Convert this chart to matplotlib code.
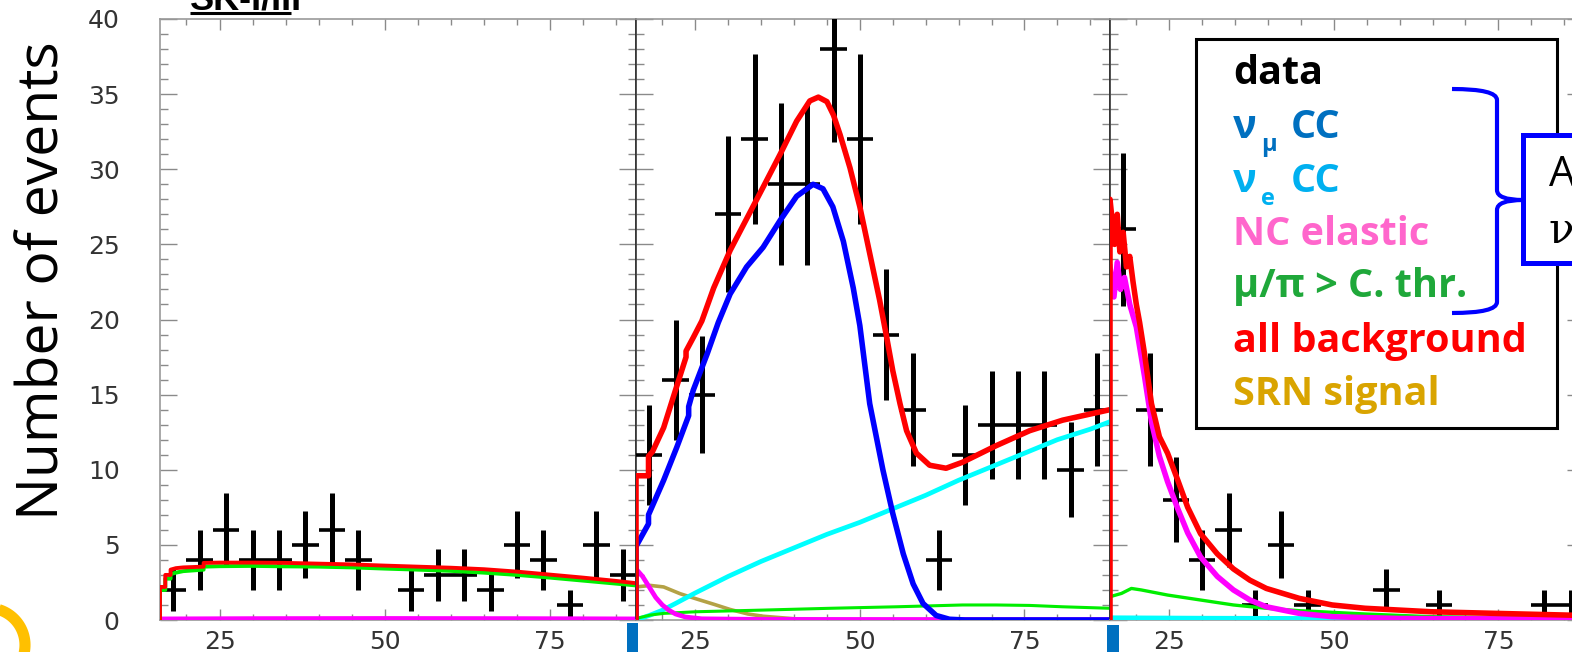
import numpy as np
import matplotlib
matplotlib.use("Agg")
import matplotlib.pyplot as plt
from matplotlib.ticker import MultipleLocator, FixedLocator
from matplotlib.patches import Rectangle, PathPatch
from matplotlib.path import Path

# ---------------- data: observed counts per 4-unit bin ----------------
bin_centers = [18, 22, 26, 30, 34, 38, 42, 46, 50, 54, 58, 62, 66, 70, 74, 78, 82, 86]
counts_low = [2, 4, 6, 4, 4, 5, 6, 4, 0, 2, 3, 3, 2, 5, 4, 1, 5, 3]
counts_mid = [11, 16, 15, 27, 32, 29, 29, 38, 32, 19, 14, 4, 11, 13, 13, 13, 10, 14]
counts_high = [26, 14, 8, 4, 6, 1, 5, 1, 0, 0, 2, 0, 1, 0, 0, 0, 1, 1]
x_ticks = [25, 50, 75]
y_ticks = [0, 5, 10, 15, 20, 25, 30, 35, 40]

# ---------------- expectations, low region ----------------
low_all_x = [16, 16, 16.8, 16.8, 17.6, 17.6, 18.4, 19.5, 22.6, 22.6, 25, 30, 35, 40, 45, 50,
             55, 60, 65, 70, 75, 80, 85, 88]
low_all_y = [0, 2.2, 2.2, 3.0, 3.0, 3.35, 3.45, 3.5, 3.55, 3.8, 3.82, 3.82, 3.8, 3.75, 3.7, 3.62,
             3.55, 3.48, 3.38, 3.22, 3.02, 2.82, 2.6, 2.45]
low_mupi_x = [16, 16, 16.8, 16.8, 17.6, 17.6, 18.4, 19.5, 22.6, 22.6, 25, 30, 35, 40, 45, 50,
              55, 60, 65, 70, 75, 80, 85, 88]
low_mupi_y = [0, 2.0, 2.0, 2.75, 2.75, 3.05, 3.15, 3.25, 3.35, 3.55, 3.58, 3.6, 3.57, 3.55, 3.5,
              3.42, 3.35, 3.27, 3.15, 3.0, 2.82, 2.62, 2.42, 2.3]
low_nc_x = [16, 30, 50, 70, 88]
low_nc_y = [0.1, 0.12, 0.13, 0.12, 0.1]
low_nue_x = [16, 88]
low_nue_y = [0.03, 0.05]

# ---------------- expectations, middle region ----------------
mid_all_x = [16, 16, 17.9, 17.9, 18.5, 20.2, 22.0, 23.6, 23.6, 24.7, 26.0, 27.8, 30.3, 32.8,
             35.3, 37.9, 40.4, 42.4, 43.7, 45.0, 46.0, 47.0, 48.5, 50.0, 51.5, 53.0, 54.0, 55.0,
             56.1, 57.1, 58.6, 60.6, 63.1, 65.6, 70.7, 75.8, 80.8, 88]
mid_all_y = [0, 9.6, 9.6, 10.9, 11.2, 12.8, 15.3, 17.5, 17.9, 18.8, 19.9, 22.1, 24.6, 26.7,
             28.8, 31.0, 33.2, 34.55, 34.8, 34.5, 33.6, 32.3, 30.1, 27.5, 24.4, 21.3, 19.0, 16.6,
             14.4, 12.6, 11.1, 10.3, 10.1, 10.5, 11.6, 12.6, 13.3, 14.0]
mid_numu_x = [16, 16, 17.9, 17.9, 20.2, 22.2, 24.0, 24.0, 24.7, 26.8, 28.5, 30.3, 32.8, 35.3,
              37.9, 40.4, 42.9, 44.4, 45.9, 47.5, 49.0, 50.0, 51.5, 53.5, 55.0, 56.6, 58.1, 59.6,
              61.6, 63.6, 66, 88]
mid_numu_y = [0, 4.9, 6.4, 7.0, 9.3, 11.5, 13.6, 14.2, 15.3, 17.7, 19.8, 21.7, 23.5, 24.8,
              26.6, 28.2, 29.0, 28.7, 27.5, 25.2, 22.1, 19.6, 14.4, 10.0, 7.1, 4.4, 2.4, 1.1,
              0.3, 0.05, 0, 0]
mid_nue_x = [16, 18, 20, 22, 25, 30, 35, 40, 45, 50, 55, 60, 65, 70, 75, 80, 85, 88]
mid_nue_y = [0.0, 0.3, 0.65, 1.1, 1.8, 2.9, 3.9, 4.8, 5.7, 6.5, 7.4, 8.3, 9.3, 10.2, 11.1, 12.0,
             12.7, 13.2]
mid_nc_x = [16, 17, 18, 19, 20, 21, 22, 23.5, 26, 35, 88]
mid_nc_y = [3.4, 2.9, 2.2, 1.5, 1.0, 0.65, 0.4, 0.2, 0.08, 0.04, 0.03]
mid_mupi_x = [16, 18.2, 20.2, 25.2, 35.3, 45.5, 55.6, 65.6, 70.7, 75.8, 80.8, 88]
mid_mupi_y = [0.1, 0.33, 0.44, 0.55, 0.66, 0.78, 0.88, 1.0, 1.0, 0.97, 0.88, 0.78]
mid_srn_x = [16, 18.2, 20.2, 22.7, 25.2, 27.8, 30.3, 33.0, 35.3, 40.4, 45, 55, 88]
mid_srn_y = [2.2, 2.3, 2.2, 1.75, 1.4, 1.05, 0.7, 0.4, 0.25, 0.07, 0.02, 0.0, 0.0]

# ---------------- expectations, high region ----------------
high_all_x = [16, 16, 16.7, 17.1, 17.5, 18.0, 18.5, 19.0, 19.5, 20.0, 20.5, 21.25, 22.3, 23.5,
              24.75, 26.3, 27.8, 29.75, 32.3, 34.75, 37.25, 39.75, 44.75, 49.75, 54.75, 64.7,
              74.7, 88]
high_all_y = [0, 28.0, 25.0, 27.0, 24.5, 25.8, 23.5, 24.2, 22.5, 21.0, 19.8, 17.7, 14.4, 12.2,
              11.1, 9.3, 7.5, 5.75, 4.4, 3.4, 2.65, 2.1, 1.44, 1.0, 0.78, 0.55, 0.44, 0.3]
high_nc_x = [16, 16.6, 17.1, 17.6, 18.2, 19.0, 20.0, 21.25, 22.3, 23.5, 24.75, 26.3, 27.8,
             29.75, 32.3, 34.75, 37.25, 39.75, 44.75, 49.75, 60, 88]
high_nc_y = [23.5, 21.5, 23.8, 22.0, 22.8, 21.0, 19.5, 16.2, 13.2, 10.9, 9.2, 7.4, 5.8, 4.2,
             2.9, 2.0, 1.33, 0.88, 0.44, 0.22, 0.1, 0.05]
high_mupi_x = [16, 17.75, 19.25, 20.75, 24.75, 29.75, 34.75, 39.75, 44.75, 54.75, 64.7, 88]
high_mupi_y = [1.55, 1.77, 2.1, 2.0, 1.66, 1.33, 1.0, 0.78, 0.62, 0.4, 0.22, 0.1]
high_nue_x = [16, 30, 50, 70, 88]
high_nue_y = [0.15, 0.12, 0.1, 0.08, 0.07]

C_ALL = "#FF0000"
C_NUMU = "#0000FF"
C_NUE = "#00FFFF"
C_NC = "#FF00FF"
C_MUPI = "#00EE00"
C_SRN = "#B4A246"

W, H = 1572, 652
fig = plt.figure(figsize=(W / 100, H / 100), dpi=100)


def px_axes(left, width):
    return fig.add_axes([left / W, (H - 620) / H, width / W, 601 / H])


ax_low = px_axes(160, 476)
ax_mid = px_axes(636, 474)
ax_high = px_axes(1110, 474)


def draw_data(ax, counts):
    xs = [x for x, n in zip(bin_centers, counts) if n > 0]
    ns = [n for n in counts if n > 0]
    err = np.sqrt(ns)
    ax.vlines(xs, np.array(ns) - err, np.array(ns) + err, color="black", lw=3.6, zorder=3)
    ax.hlines(ns, np.array(xs) - 2, np.array(xs) + 2, color="black", lw=2.6, zorder=3)


def style(ax, show_y):
    ax.set_xlim(16, 88)
    ax.set_ylim(0, 40)
    ax.xaxis.set_major_locator(FixedLocator(x_ticks))
    ax.xaxis.set_minor_locator(MultipleLocator(5))
    ax.yaxis.set_major_locator(FixedLocator(y_ticks))
    ax.yaxis.set_minor_locator(MultipleLocator(1))
    ax.tick_params(which="both", direction="in", top=True, right=True, color="#8a8a8a",
                   width=1.0, labelcolor="#333333", labelsize=18)
    ax.tick_params(which="major", length=8)
    ax.tick_params(which="minor", length=4)
    ax.tick_params(axis="y", which="major", length=12)
    ax.tick_params(axis="y", which="minor", length=6)
    ax.tick_params(axis="x", pad=7)
    ax.tick_params(axis="y", pad=29, labelleft=show_y)
    for lab in ax.get_xticklabels() + ax.get_yticklabels():
        lab.set_fontfamily("DejaVu Sans")
    for side in ("top", "bottom"):
        ax.spines[side].set_color("#9a9a9a")
        ax.spines[side].set_linewidth(1.2)
    ax.spines["left"].set_color("#9a9a9a" if show_y else "#333333")
    ax.spines["right"].set_color("#333333")
    for side in ("left", "right"):
        ax.spines[side].set_linewidth(1.2)


for ax in (ax_low, ax_mid, ax_high):
    style(ax, ax is ax_low)

# low region
draw_data(ax_low, counts_low)
ax_low.plot(low_nue_x, low_nue_y, color=C_NUE, lw=2.4, zorder=4)
ax_low.plot(low_nc_x, low_nc_y, color=C_NC, lw=2.8, zorder=4)
ax_low.plot(low_mupi_x, low_mupi_y, color=C_MUPI, lw=2.8, zorder=4)
ax_low.plot(low_all_x, low_all_y, color=C_ALL, lw=2.8, zorder=5)

# middle region
draw_data(ax_mid, counts_mid)
ax_mid.plot(mid_srn_x, mid_srn_y, color=C_SRN, lw=2.6, zorder=4)
ax_mid.plot(mid_nue_x, mid_nue_y, color=C_NUE, lw=3.4, zorder=4)
ax_mid.plot(mid_mupi_x, mid_mupi_y, color=C_MUPI, lw=2.2, zorder=4)
ax_mid.plot(mid_nc_x, mid_nc_y, color=C_NC, lw=3.4, zorder=4)
ax_mid.plot(mid_numu_x, mid_numu_y, color=C_NUMU, lw=4.0, zorder=4)
ax_mid.plot(mid_all_x, mid_all_y, color=C_ALL, lw=4.0, zorder=5)

# high region
draw_data(ax_high, counts_high)
ax_high.plot(high_nue_x, high_nue_y, color=C_NUE, lw=3.4, zorder=4)
ax_high.plot(high_mupi_x, high_mupi_y, color=C_MUPI, lw=2.4, zorder=4)
ax_high.plot(high_nc_x, high_nc_y, color=C_NC, lw=4.0, zorder=4)
ax_high.plot(high_all_x, high_all_y, color=C_ALL, lw=4.0, zorder=5)

fig.text(44 / W, 1 - 281 / H, "Number of events", rotation=90, ha="center", va="center",
         fontsize=41, family="Open Sans", color="black")

# overlay in pixel coordinates for the annotation layer
ov = fig.add_axes([0, 0, 1, 1])
ov.set_xlim(0, W)
ov.set_ylim(H, 0)
ov.axis("off")

# title
ov.text(190, 9, "SK-I/III", fontsize=26, weight="bold", family="Liberation Sans",
        va="baseline", ha="left", color="black")
ov.plot([190, 291], [13, 13], color="black", lw=2.2, solid_capstyle="butt")

# legend box
ov.add_patch(Rectangle((1196, 39), 361, 389, facecolor="white", edgecolor="black", lw=2.2,
                       zorder=2))
LX = 1233
FS = 28.5
FAM = "Open Sans"
ov.text(LX, 84, "data", fontsize=FS, weight="bold", family=FAM, color="black", va="baseline",
        zorder=3)
ov.text(LX, 138, "ν", fontsize=FS, weight="bold", family=FAM, color="#0070C0", va="baseline",
        zorder=3)
ov.text(LX + 28, 151, "μ", fontsize=17, weight="bold", family=FAM, color="#0070C0",
        va="baseline", zorder=3)
ov.text(LX + 58, 138, "CC", fontsize=FS, weight="bold", family=FAM, color="#0070C0",
        va="baseline", zorder=3)
ov.text(LX, 192, "ν", fontsize=FS, weight="bold", family=FAM, color="#00B0F0", va="baseline",
        zorder=3)
ov.text(LX + 28, 205, "e", fontsize=17, weight="bold", family=FAM, color="#00B0F0",
        va="baseline", zorder=3)
ov.text(LX + 58, 192, "CC", fontsize=FS, weight="bold", family=FAM, color="#00B0F0",
        va="baseline", zorder=3)
ov.text(LX, 245, "NC elastic", fontsize=FS, weight="bold", family=FAM, color="#FF66CC",
        va="baseline", zorder=3)
ov.text(LX, 297, "μ/π > C. thr.", fontsize=FS, weight="bold", family=FAM, color="#1FA83A",
        va="baseline", zorder=3)
ov.text(LX, 352, "all background", fontsize=FS, weight="bold", family=FAM, color="#FF0000",
        va="baseline", zorder=3)
ov.text(LX, 405, "SRN signal", fontsize=FS, weight="bold", family=FAM, color="#D9A400",
        va="baseline", zorder=3)

# curly brace grouping the atmospheric components
verts = [(1452, 89), (1497, 89), (1497, 100), (1497, 190), (1497, 200), (1523, 200),
         (1497, 200), (1497, 210), (1497, 302), (1497, 313), (1452, 313)]
codes = [Path.MOVETO, Path.CURVE3, Path.CURVE3, Path.LINETO, Path.CURVE3, Path.CURVE3,
         Path.CURVE3, Path.CURVE3, Path.LINETO, Path.CURVE3, Path.CURVE3]
ov.add_patch(PathPatch(Path(verts, codes), facecolor="none", edgecolor="#0000FF", lw=3.0,
                       zorder=4))

# callout box
ov.add_patch(Rectangle((1523, 135), 120, 128, facecolor="white", edgecolor="#0000FF", lw=3.6,
                       zorder=5))
ov.text(1549, 186, "Atmospheric", fontsize=30, family="Open Sans", color="black",
        va="baseline", zorder=6, clip_on=True)
ov.text(1549, 243, "ν background", fontsize=30, family="DejaVu Serif", color="black",
        va="baseline", zorder=6, clip_on=True)

# slide decorations
t = np.radians(np.linspace(100, -40, 60))
ov.plot(-12 + 37 * np.cos(t), 645 - 37 * np.sin(t), color="#FFC000", lw=8,
        solid_capstyle="butt")
ov.add_patch(Rectangle((627, 623), 11, 29, facecolor="#0070C0", edgecolor="none"))
ov.add_patch(Rectangle((1107, 625), 12, 27, facecolor="#0070C0", edgecolor="none"))

fig.savefig("out.png", dpi=100)
